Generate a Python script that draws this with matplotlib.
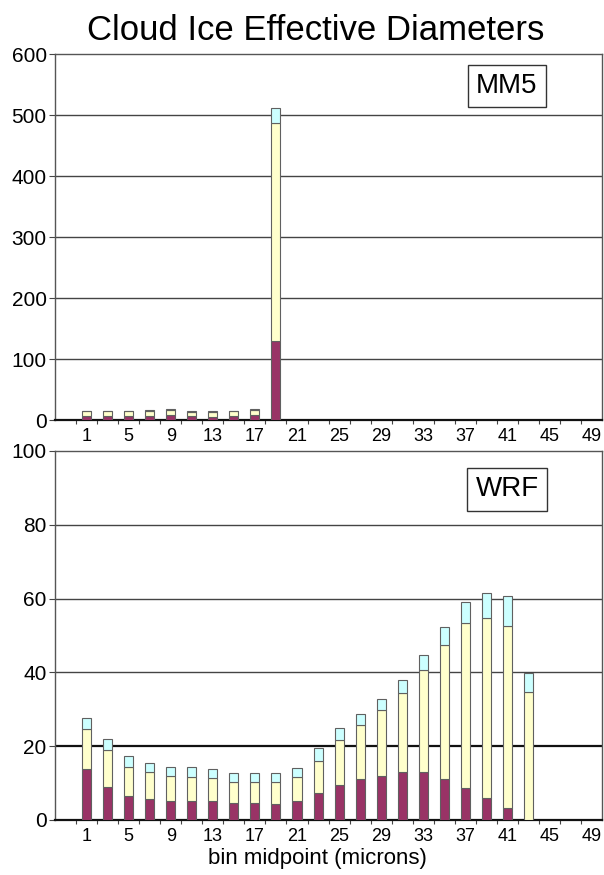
import numpy as np
import matplotlib.pyplot as plt

plt.rcParams['font.family'] = ['Liberation Sans', 'DejaVu Sans']

# bin midpoints (microns)
bins = np.arange(1, 50, 2)

# MM5 stacked values (bottom, middle, top)
mm5_maroon = [7, 6, 6, 7, 8, 6, 5, 6, 8, 130, 0, 0, 0, 0, 0, 0, 0, 0, 0, 0, 0, 0, 0, 0, 0]
mm5_yellow = [7, 8, 8, 8, 8, 7, 8, 8, 8, 357, 0, 0, 0, 0, 0, 0, 0, 0, 0, 0, 0, 0, 0, 0, 0]
mm5_cyan = [1.5, 1.5, 1.5, 1.5, 1.5, 1.5, 1.5, 1.5, 1.5, 25, 0, 0, 0, 0, 0, 0, 0, 0, 0, 0, 0, 0, 0, 0, 0]

# WRF stacked values (cumulative tops)
wrf_maroon = [13.8, 9.0, 6.4, 5.7, 5.0, 5.2, 5.0, 4.6, 4.6, 4.3, 5.0, 7.4, 9.5,
              11.0, 11.9, 12.9, 12.9, 11.2, 8.7, 6.0, 3.1, 0, 0, 0, 0]
wrf_yellow_top = [24.6, 18.9, 14.4, 13.0, 12.0, 11.7, 11.3, 10.4, 10.4, 10.4, 11.7, 16.0, 21.6,
                  25.6, 29.8, 34.4, 40.7, 47.5, 53.5, 54.8, 52.5, 34.6, 0, 0, 0]
wrf_cyan_top = [27.6, 21.9, 17.3, 15.5, 14.4, 14.4, 13.7, 12.8, 12.8, 12.8, 14.1, 19.5, 24.9,
                28.8, 32.9, 38.0, 44.6, 52.2, 59.1, 61.4, 60.6, 39.7, 0, 0, 0]

wrf_yellow = [y - m for y, m in zip(wrf_yellow_top, wrf_maroon)]
wrf_cyan = [c - y for c, y in zip(wrf_cyan_top, wrf_yellow_top)]

colors = ['#993366', '#FFFFCC', '#CCFFFF']
edge = '#606060'
w = 0.86

fig = plt.figure(figsize=(6.04, 8.75), dpi=100)
ax1 = fig.add_axes([0.091, 0.52, 0.906, 0.418])
ax2 = fig.add_axes([0.091, 0.063, 0.906, 0.4216])


def draw(ax, maroon, yellow, cyan, ymax, ystep, label, lab_y, thick=None):
    maroon = np.array(maroon, dtype=float)
    yellow = np.array(yellow, dtype=float)
    cyan = np.array(cyan, dtype=float)
    m = (maroon + yellow + cyan) > 0
    ax.bar(bins[m], maroon[m], width=w, color=colors[0], edgecolor=edge, lw=0.8, zorder=3)
    ax.bar(bins[m], yellow[m], width=w, bottom=maroon[m], color=colors[1], edgecolor=edge, lw=0.8, zorder=3)
    ax.bar(bins[m], cyan[m], width=w, bottom=(maroon + yellow)[m], color=colors[2], edgecolor=edge, lw=0.8, zorder=3)
    ax.set_xlim(-2, 50)
    ax.set_ylim(0, ymax)
    ax.set_yticks(np.arange(0, ymax + 1, ystep))
    for yv in np.arange(ystep, ymax, ystep):
        lw = 1.6 if yv == thick else 1.0
        col = '#111111' if yv == thick else '#444444'
        ax.axhline(yv, color=col, lw=lw, zorder=1)
    ax.set_xticks(bins[::2])
    ax.set_xticks(np.arange(0, 50, 2), minor=True)
    ax.tick_params(axis='x', which='major', length=0, labelsize=13, pad=6)
    ax.tick_params(axis='x', which='minor', length=3, width=0.8, direction='out', color='#444444')
    ax.tick_params(axis='y', length=4, width=0.8, labelsize=15, pad=2, color='#444444')
    for s in ['top', 'right', 'left']:
        ax.spines[s].set_color('#555555')
        ax.spines[s].set_linewidth(1.0)
    ax.spines['bottom'].set_color('#111111')
    ax.spines['bottom'].set_linewidth(1.6)
    ax.text(0.826, lab_y, label, transform=ax.transAxes, fontsize=20, ha='center', va='center',
            bbox=dict(boxstyle='square,pad=0.3', fc='white', ec='#333333', lw=1.0), zorder=5)


draw(ax1, mm5_maroon, mm5_yellow, mm5_cyan, 600, 100, 'MM5', 0.913)
draw(ax2, wrf_maroon, wrf_yellow, wrf_cyan, 100, 20, 'WRF', 0.896, thick=20)

fig.text(0.523, 0.965, 'Cloud Ice Effective Diameters', fontsize=25, ha='center', va='center')
fig.text(0.525, 0.019, 'bin midpoint (microns)', fontsize=16, ha='center', va='center')

fig.savefig('out.png', dpi=100)
